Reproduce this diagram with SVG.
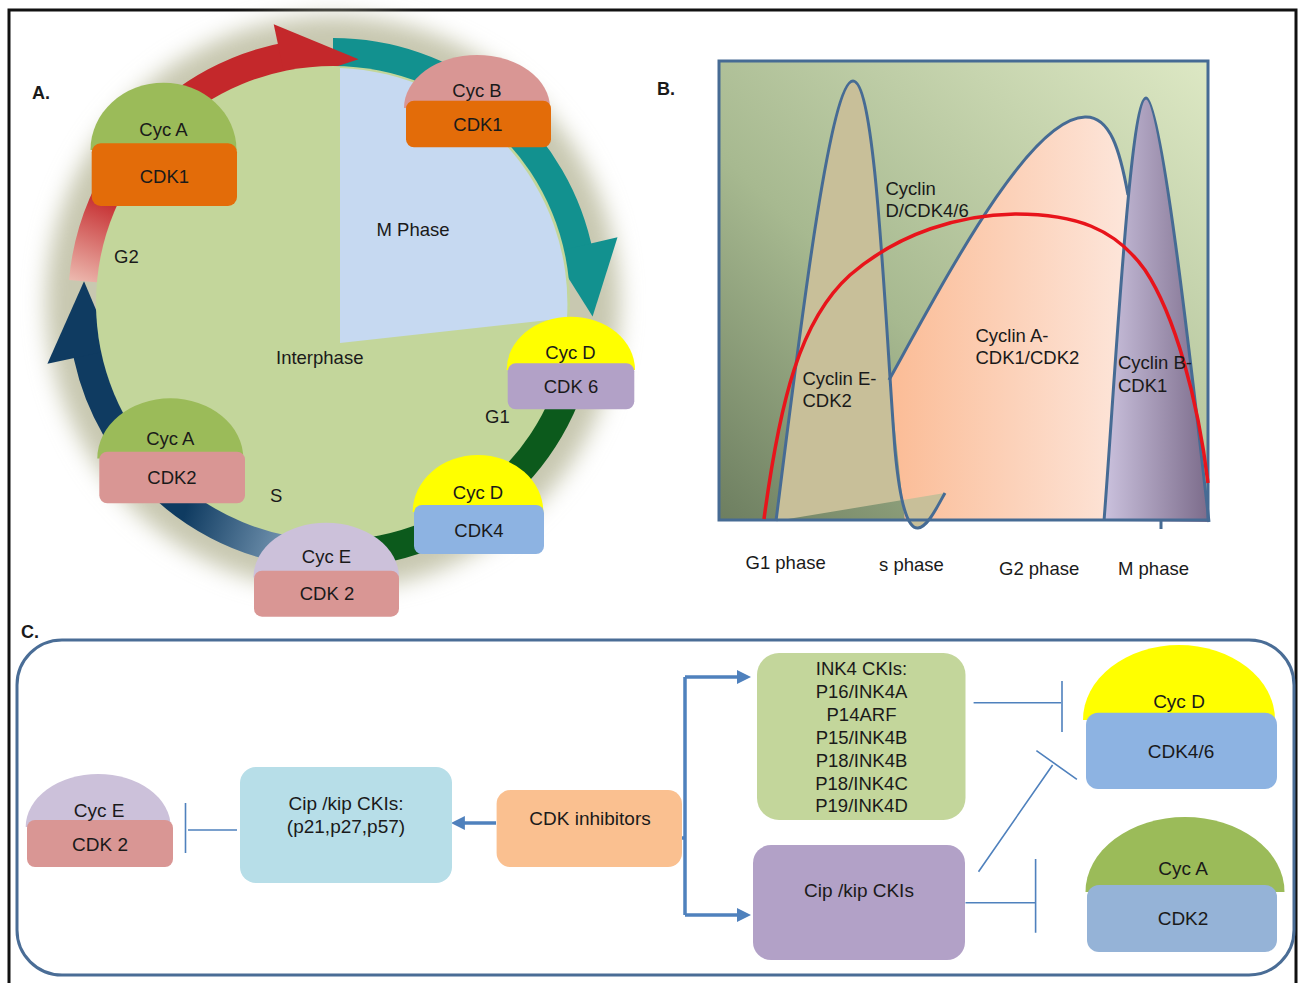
<svg xmlns="http://www.w3.org/2000/svg" width="1305" height="983" viewBox="0 0 1305 983">
<style>
text{font-family:"Liberation Sans",Arial,sans-serif;fill:#1a1a1a}
.a{font-size:18.5px;text-anchor:middle}
.al{font-size:18.5px}
.lbl{font-size:18px;font-weight:bold}
.b{font-size:18.5px}
.c{font-size:19px;text-anchor:middle}
.ink{font-size:18.5px;text-anchor:middle}
.out{fill:none;stroke:#466b94;stroke-width:3;stroke-linejoin:round}
.inh{fill:none;stroke:#4f81bd;stroke-width:1.6}
.br{fill:none;stroke:#4f81bd;stroke-width:3.5}
.band{fill:none;stroke-width:30}
</style>
<defs>
<filter id="blur" x="-20%" y="-20%" width="140%" height="140%"><feGaussianBlur stdDeviation="11"/></filter>
<linearGradient id="gRed" gradientUnits="userSpaceOnUse" x1="84" y1="285" x2="118" y2="200">
<stop offset="0" stop-color="#ecb8ae"/><stop offset="1" stop-color="#c4282b"/></linearGradient>
<linearGradient id="gBlue" gradientUnits="userSpaceOnUse" x1="282" y1="545" x2="185" y2="512">
<stop offset="0" stop-color="#7192ae"/><stop offset="1" stop-color="#0f3b61"/></linearGradient>
<linearGradient id="gBg" x1="0" y1="1" x2="1" y2="0">
<stop offset="0" stop-color="#6d7e60"/><stop offset="0.4" stop-color="#a7b990"/><stop offset="1" stop-color="#dde8c4"/></linearGradient>
<linearGradient id="gA" gradientUnits="userSpaceOnUse" x1="890" y1="0" x2="1130" y2="0">
<stop offset="0" stop-color="#fbbc96"/><stop offset="1" stop-color="#fde6db"/></linearGradient>
<linearGradient id="gB" gradientUnits="userSpaceOnUse" x1="1104" y1="0" x2="1209" y2="0">
<stop offset="0" stop-color="#cbc2de"/><stop offset="1" stop-color="#7b6b8a"/></linearGradient>
<marker id="ah" viewBox="0 0 10 10" refX="6" refY="5" markerWidth="4" markerHeight="4" markerUnits="strokeWidth" orient="auto">
<path d="M0,0 L10,5 L0,10 z" fill="#4f81bd"/></marker>
</defs>
<rect x="0" y="0" width="1305" height="983" fill="#ffffff"/>
<rect x="9" y="10" width="1287" height="990" fill="none" stroke="#111" stroke-width="3"/>

<!-- Panel A -->
<text class="lbl" x="32" y="99">A.</text>
<g id="cycle">
<circle cx="333" cy="303" r="287" fill="#c8c8b0" filter="url(#blur)"/>
<path class="band" stroke="#12918f" d="M333,53 A250,250 0 0 1 578.4,255.3"/>
<polygon fill="#12918f" points="617.5,237.3 592.6,316.6 552.2,252.4"/>
<path class="band" stroke="#0c5a1c" d="M582,324.8 A250,250 0 0 1 289.6,549.2"/>
<path class="band" stroke="url(#gBlue)" d="M289.6,549.2 A250,250 0 0 1 85.4,337.8"/>
<polygon fill="#0f3b61" points="47.4,363.7 84,281.2 112.9,349.8"/>
<path class="band" stroke="url(#gRed)" d="M84,281.2 A250,250 0 0 1 289.6,56.8"/>
<polygon fill="#c4282b" points="273.7,24.2 358.6,59.3 286.2,82.9"/>
<circle cx="333" cy="303" r="237" fill="#c3d69b"/>
<path d="M340,68 L340,343 L567,318 A236,236 0 0 0 340,68 Z" fill="#c6d9f1"/>
<text class="al" x="376.5" y="236">M Phase</text>
<text class="al" x="114" y="263">G2</text>
<text class="al" x="276" y="364">Interphase</text>
<text class="al" x="485" y="422.5">G1</text>
<text class="al" x="270" y="502">S</text>
</g>
<g id="a-cycA-cdk1">
<path d="M90.5,150 A73,67.3 0 0 1 236.5,150 Z" fill="#9bbb59"/>
<rect x="91.7" y="143.3" width="145.3" height="62.7" rx="9" fill="#e36c09"/>
<text class="a" x="163.5" y="136">Cyc A</text>
<text class="a" x="164.4" y="182.7">CDK1</text>
</g>
<g id="a-cycB-cdk1">
<path d="M404,108 A73,53 0 0 1 550,108 Z" fill="#d99694"/>
<rect x="406" y="100.7" width="145" height="46.6" rx="8" fill="#e36c09"/>
<text class="a" x="477" y="96.7">Cyc B</text>
<text class="a" x="478" y="131">CDK1</text>
</g>
<g id="a-cycD-cdk6">
<path d="M506.6,370 A64.2,53.3 0 0 1 635,370 Z" fill="#ffff00"/>
<rect x="507.7" y="363.3" width="126.6" height="46" rx="8" fill="#b2a1c7"/>
<text class="a" x="570.5" y="359.3">Cyc D</text>
<text class="a" x="571" y="392.7">CDK 6</text>
</g>
<g id="a-cycD-cdk4">
<path d="M412.7,512 A65.3,57 0 0 1 543.3,512 Z" fill="#ffff00"/>
<rect x="414" y="505" width="130" height="49" rx="8" fill="#8db3e2"/>
<text class="a" x="478" y="499.3">Cyc D</text>
<text class="a" x="479" y="536.7">CDK4</text>
</g>
<g id="a-cycA-cdk2">
<path d="M97.3,458.5 A73,60.2 0 0 1 243.3,458.5 Z" fill="#9bbb59"/>
<rect x="99.3" y="451.7" width="145.7" height="51.6" rx="8" fill="#d99694"/>
<text class="a" x="170.3" y="445">Cyc A</text>
<text class="a" x="172" y="484">CDK2</text>
</g>
<g id="a-cycE-cdk2">
<path d="M253.4,577.5 A72.8,54.8 0 0 1 399,577.5 Z" fill="#ccc1da"/>
<rect x="254" y="570.7" width="145" height="46" rx="8" fill="#d99694"/>
<text class="a" x="326.5" y="563.3">Cyc E</text>
<text class="a" x="327" y="600">CDK 2</text>
</g>

<!-- Panel B -->
<text class="lbl" x="657" y="95">B.</text>
<g id="chart">
<rect x="719" y="61" width="489" height="459" fill="url(#gBg)"/>
<path d="M889,380 C950,270 1030,118 1085,117 C1110,116 1120,150 1128,195 L1140,521 L905,521 C902,500 898,450 889,380 Z" fill="url(#gA)"/>
<path d="M776,521 C800,330 830,81 853,81 C876,81 885,320 895,450 C900,505 908,529 918,528 C928,527 938,505 945,493 Z" fill="#c8bf99"/>
<path d="M1104,521 C1115,380 1130,98 1146,98 C1162,98 1195,400 1209,522 Z" fill="url(#gB)"/>
<rect x="719" y="61" width="489" height="459" fill="none" stroke="#466b94" stroke-width="3"/>
<path class="out" d="M776,521 C800,330 830,81 853,81 C876,81 885,320 895,450 C900,505 908,529 918,528 C928,527 938,505 945,493"/>
<path class="out" d="M889,380 C950,270 1030,118 1085,117 C1110,116 1120,150 1128,195"/>
<path class="out" d="M1104,521 C1115,380 1130,98 1146,98 C1162,98 1195,400 1209,522"/>
<path class="out" d="M1161,521 V529"/>
<path d="M764,519 C780,400 800,320 850,275 C900,232 960,215 1015,214 C1075,214 1115,228 1145,270 C1175,315 1198,400 1208,483" fill="none" stroke="#e8141b" stroke-width="3.5"/>
<text class="b" x="885.5" y="195">Cyclin</text>
<text class="b" x="885.5" y="217">D/CDK4/6</text>
<text class="b" x="802.5" y="384.5">Cyclin E-</text>
<text class="b" x="802.5" y="407">CDK2</text>
<text class="b" x="975.5" y="341.5">Cyclin A-</text>
<text class="b" x="975.5" y="364">CDK1/CDK2</text>
<text class="b" x="1118" y="369">Cyclin B-</text>
<text class="b" x="1118" y="391.5">CDK1</text>
<text class="b" x="745.5" y="569">G1 phase</text>
<text class="b" x="879" y="570.5">s phase</text>
<text class="b" x="999" y="575">G2 phase</text>
<text class="b" x="1118" y="575">M phase</text>
</g>

<!-- Panel C -->
<text class="lbl" x="21" y="638">C.</text>
<rect x="17" y="640" width="1277" height="335" rx="45" fill="none" stroke="#4a6d96" stroke-width="3"/>
<g id="connectors">
<path class="br" d="M496,823 H456.5" marker-end="url(#ah)"/>
<path class="br" d="M682,838 H685 M685,677 V915"/>
<path class="br" d="M685,677 H745.4" marker-end="url(#ah)"/>
<path class="br" d="M685,915 H745.4" marker-end="url(#ah)"/>
<path class="inh" d="M237,830 H188 M185.5,803 V853"/>
<path class="inh" d="M973.6,702.7 H1061 M1062,681 V732"/>
<path class="inh" d="M978.5,871.7 L1052.6,765 M1036.4,750.7 L1076.9,779.3"/>
<path class="inh" d="M965.5,902.7 H1035 M1035.6,859 V932.7"/>
</g>
<g id="c-cycE-cdk2">
<path d="M25.7,827 A72.5,53 0 0 1 170.7,827 Z" fill="#ccc1da"/>
<rect x="27" y="820" width="146" height="47" rx="8" fill="#d99694"/>
<text class="c" x="99" y="816.7">Cyc E</text>
<text class="c" x="100" y="851">CDK 2</text>
</g>
<g id="c-cipkip1">
<rect x="240" y="767" width="212" height="116" rx="16" fill="#b7dee8"/>
<text class="c" x="346" y="810">Cip /kip CKIs:</text>
<text class="c" x="346" y="833">(p21,p27,p57)</text>
</g>
<g id="c-cdkinh">
<rect x="496.6" y="790" width="185.4" height="77" rx="14" fill="#fac090"/>
<text class="c" x="590" y="825">CDK inhibitors</text>
</g>
<g id="c-ink4">
<rect x="757" y="653" width="208.5" height="167" rx="22" fill="#c3d69b"/>
<text class="ink" x="861.5" y="675">INK4 CKIs:</text>
<text class="ink" x="861.5" y="698">P16/INK4A</text>
<text class="ink" x="861.5" y="721">P14ARF</text>
<text class="ink" x="861.5" y="744">P15/INK4B</text>
<text class="ink" x="861.5" y="767">P18/INK4B</text>
<text class="ink" x="861.5" y="789.5">P18/INK4C</text>
<text class="ink" x="861.5" y="812">P19/INK4D</text>
</g>
<g id="c-cipkip2">
<rect x="753" y="845" width="212" height="115" rx="18" fill="#b2a1c7"/>
<text class="c" x="859" y="897">Cip /kip CKIs</text>
</g>
<g id="c-cycD-cdk46">
<path d="M1083,720 A96,75 0 0 1 1275,720 Z" fill="#ffff00"/>
<rect x="1086" y="712.7" width="191" height="76.3" rx="12" fill="#8db3e2"/>
<text class="c" x="1179" y="708">Cyc D</text>
<text class="c" x="1181" y="758">CDK4/6</text>
</g>
<g id="c-cycA-cdk2">
<path d="M1085.5,892 A99.5,75 0 0 1 1284.5,892 Z" fill="#9bbb59"/>
<rect x="1087" y="885" width="190" height="67" rx="12" fill="#95b3d7"/>
<text class="c" x="1183" y="875">Cyc A</text>
<text class="c" x="1183" y="925">CDK2</text>
</g>
</svg>
